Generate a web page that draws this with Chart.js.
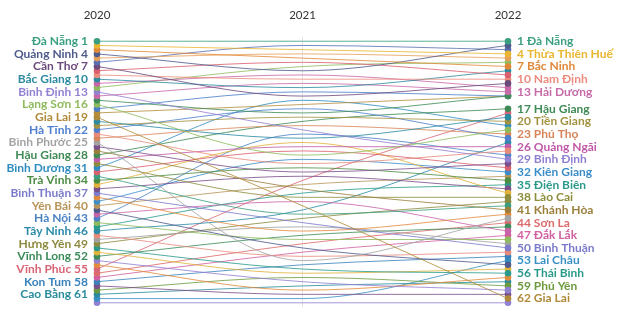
<!DOCTYPE html>
<html>
<head>
<meta charset="utf-8">
<script src="https://cdn.jsdelivr.net/npm/chart.js@4"></script>
<style>
html, body { margin: 0; padding: 0; background: #fff; }
#wrap { width: 621px; height: 317px; }
</style>
</head>
<body>
<div id="wrap"><canvas id="bump" width="621" height="317"></canvas></div>
<script>
// ---- data ----
var years = ["2020", "2021", "2022"];

var provinces = [
  "Đà Nẵng", "Thừa Thiên Huế", "Bắc Ninh", "Quảng Ninh", "Hải Phòng", "TP. Hồ Chí Minh",
  "Cần Thơ", "Thái Nguyên", "Nam Định", "Bắc Giang", "Đồng Tháp", "Long An",
  "Bình Định", "Hải Dương", "Lâm Đồng", "Lạng Sơn", "Ninh Bình", "Quảng Nam",
  "Gia Lai", "Thanh Hóa", "Tiền Giang", "Hà Tĩnh", "Bến Tre", "Phú Thọ",
  "Bình Phước", "Quảng Trị", "Khánh Hòa", "Hậu Giang", "Quảng Ngãi", "Lào Cai",
  "Bình Dương", "Đồng Nai", "Tuyên Quang", "Trà Vinh", "Nghệ An", "Bà Rịa - Vũng Tàu",
  "Bình Thuận", "An Giang", "Kiên Giang", "Yên Bái", "Đắk Nông", "Sóc Trăng",
  "Hà Nội", "Hà Nam", "Điện Biên", "Tây Ninh", "Quảng Bình", "Cà Mau",
  "Hưng Yên", "Thái Bình", "Bạc Liêu", "Vĩnh Long", "Ninh Thuận", "Hà Giang",
  "Vĩnh Phúc", "Sơn La", "Đắk Lắk", "Kon Tum", "Hòa Bình", "Phú Yên",
  "Cao Bằng", "Lai Châu", "Bắc Kạn"
];

var rank2020 = [
  1, 2, 3, 4, 5, 6, 7, 8, 9, 10, 11, 12, 13, 14, 15, 16, 17, 18, 19, 20, 21,
  22, 23, 24, 25, 26, 27, 28, 29, 30, 31, 32, 33, 34, 35, 36, 37, 38, 39, 40, 41, 42,
  43, 44, 45, 46, 47, 48, 49, 50, 51, 52, 53, 54, 55, 56, 57, 58, 59, 60, 61, 62, 63
];

var rank2021 = [
  1, 3, 5, 8, 4, 2, 14, 6, 10, 12, 9, 7, 22, 11, 18, 28, 13, 16, 40, 24, 19,
  17, 30, 21, 53, 32, 36, 20, 26, 38, 15, 27, 42, 31, 25, 33, 44, 46, 29, 35, 50, 39,
  23, 48, 37, 41, 52, 45, 43, 55, 56, 47, 58, 60, 34, 49, 51, 54, 61, 57, 59, 62, 63
];

var rank2022 = [
  1, 4, 7, 2, 5, 3, 11, 9, 10, 8, 12, 6, 29, 13, 14, 22, 14, 14, 62, 19, 20,
  24, 27, 23, 43, 30, 41, 17, 26, 38, 21, 31, 40, 34, 37, 36, 50, 42, 32, 33, 54, 46,
  28, 48, 35, 25, 51, 49, 39, 56, 55, 45, 60, 57, 18, 44, 47, 52, 61, 59, 58, 53, 63
];

var colors = [
  "#3a9e80", "#e8b630", "#e0883a", "#4f5b8c", "#e7a05a", "#5b6fb0",
  "#6b4a7c", "#d9606e", "#ec8c7e", "#2b8ba0", "#c968a8", "#8fbb5f",
  "#9280d2", "#c76aa8", "#3f8c59", "#8dbb5d", "#4a7fca", "#b48d3c",
  "#b08a38", "#2a8ba3", "#a39240", "#4f7fcf", "#e88a7a", "#d68458",
  "#a3a3a3", "#7a4f8a", "#9c7f3c", "#3f8a55", "#c05aa8", "#8d8d3c",
  "#2f8cc0", "#d9606e", "#3a9e80", "#4d8c44", "#e0b23a", "#7a4f8a",
  "#7b7bcb", "#e38b3b", "#3a8dc8", "#b89458", "#505a8c", "#c865a8",
  "#4a82c4", "#8fbb5f", "#2b9a8a", "#2a8aa8", "#e88a7a", "#a0a0a0",
  "#8c8a3e", "#2a9a8c", "#e0b23a", "#3c8c5a", "#9280d2", "#e38b3b",
  "#d86475", "#dc6a6a", "#d160a0", "#3a82bc", "#7a4f8a", "#6d9a3e",
  "#2a8c9c", "#3890c4", "#9280d2"
];

// ranks that get a name label on each side
var leftTickRanks = [1, 4, 7, 10, 13, 16, 19, 22, 25, 28, 31, 34, 37, 40, 43, 46, 49, 52, 55, 58, 61];
var rightTickRanks = [1, 4, 7, 10, 13, 17, 20, 23, 26, 29, 32, 35, 38, 41, 44, 47, 50, 53, 56, 59, 62];

// ---- year headers + labels beside the first and last column ----
var sideLabels = {
  id: 'sideLabels',
  afterDatasetsDraw: function (chart) {
    var ctx = chart.ctx;
    var xs = chart.scales.x, ys = chart.scales.y;
    var xLeft = xs.getPixelForValue(0), xRight = xs.getPixelForValue(2);
    ctx.save();
    ctx.textBaseline = 'middle';
    ctx.textAlign = 'center';
    ctx.fillStyle = '#333';
    ctx.font = '11.5px Lato';
    years.forEach(function (yr, k) {
      ctx.fillText(yr, xs.getPixelForValue(k), 15);
    });
    ctx.font = 'bold 12px Lato';
    provinces.forEach(function (name, i) {
      ctx.fillStyle = colors[i];
      if (leftTickRanks.indexOf(rank2020[i]) > -1) {
        ctx.textAlign = 'right';
        ctx.fillText(name + ' ' + rank2020[i], xLeft - 9, ys.getPixelForValue(rank2020[i]));
      }
      if (rightTickRanks.indexOf(rank2022[i]) > -1) {
        ctx.textAlign = 'left';
        ctx.fillText(rank2022[i] + ' ' + name, xRight + 9, ys.getPixelForValue(rank2022[i]));
      }
    });
    ctx.restore();
  }
};

var datasets = provinces.map(function (name, i) {
  return {
    label: name,
    data: [rank2020[i], rank2021[i], rank2022[i]],
    borderColor: colors[i] + 'd0',
    backgroundColor: colors[i],
    pointBackgroundColor: colors[i],
    borderWidth: 1,
    pointRadius: [3.3, 0, 3.3],
    pointBorderWidth: 0,
    cubicInterpolationMode: 'monotone',
    clip: false
  };
});

new Chart(document.getElementById('bump'), {
  type: 'line',
  data: { labels: years, datasets: datasets },
  options: {
    responsive: false,
    animation: false,
    devicePixelRatio: 1,
    layout: { padding: { left: 97, right: 113, top: 37, bottom: 10 } },
    plugins: { legend: { display: false }, tooltip: { enabled: false } },
    scales: {
      x: {
        offset: false,
        border: { display: false },
        grid: {
          drawTicks: false,
          color: function (c) { return c.index === 1 ? '#e2e2e2' : 'rgba(0,0,0,0)'; }
        },
        ticks: { display: false }
      },
      y: { display: false, reverse: true, min: 0, max: 64 }
    }
  },
  plugins: [sideLabels]
});
</script>
</body>
</html>
